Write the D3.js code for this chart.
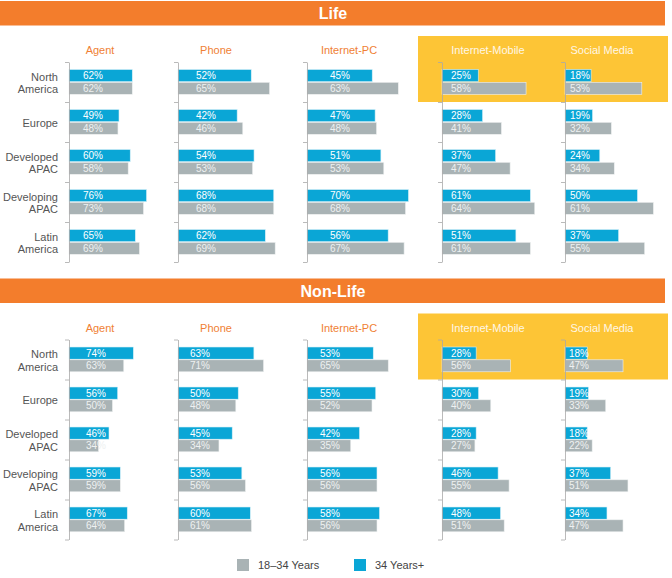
<!DOCTYPE html>
<html>
<head>
<meta charset="utf-8">
<script src="https://cdn.jsdelivr.net/npm/d3@7"></script>
<style>
  body { margin: 0; background: #fff; }
  svg { font-family: "Liberation Sans", Arial, Helvetica, sans-serif; }
</style>
</head>
<body>
<div id="chart"></div>
<script>
// DATA
const channels = ["Agent", "Phone", "Internet-PC", "Internet-Mobile", "Social Media"];
const regions = ["North America", "Europe", "Developed APAC", "Developing APAC", "Latin America"];
const panels = ["Life", "Non-Life"];
const legendLabels = ["18–34 Years", "34 Years+"];

// life, 34 years+ (blue) per channel, rows = regions
const life34plus = [
  [62, 49, 60, 76, 65],
  [52, 42, 54, 68, 62],
  [45, 47, 51, 70, 56],
  [25, 28, 37, 61, 51],
  [18, 19, 24, 50, 37]
];
// life, 18-34 (grey)
const life1834 = [
  [62, 48, 58, 73, 69],
  [65, 46, 53, 68, 69],
  [63, 48, 53, 68, 67],
  [58, 41, 47, 64, 61],
  [53, 32, 34, 61, 55]
];
const nonLife34plus = [
  [74, 56, 46, 59, 67],
  [63, 50, 45, 53, 60],
  [53, 55, 42, 56, 58],
  [28, 30, 28, 46, 48],
  [18, 19, 18, 37, 34]
];
const nonLife1834 = [
  [63, 50, 34, 59, 64],
  [71, 48, 34, 56, 61],
  [65, 52, 35, 56, 56],
  [56, 40, 27, 55, 51],
  [47, 33, 22, 51, 47]
];
// each small chart in the original has its own scale (value at 100px)
const lifeScaleMax = [98, 71, 69, 69, 69];
const nonLifeScaleMax = [115, 83, 80, 82, 81];

// LAYOUT
const W = 672, H = 578;
const blue = "#0aa6d6", grey = "#a9b3b5", orange = "#f37d2c", yellow = "#fdc536";
const colX = [69, 178, 307, 442, 565];
const headX = [100, 216, 349, 488, 602];
const labelPad = [[14, 18, 23, 9, 5], [17, 12, 13, 9, 4]];
const panelTop = [0, 277.5];
const highlightCols = [3, 4];

const svg = d3.select("#chart").append("svg")
  .attr("width", W)
  .attr("height", H);

const panelData = [
  { name: panels[0], blue: life34plus, grey: life1834, max: lifeScaleMax },
  { name: panels[1], blue: nonLife34plus, grey: nonLife1834, max: nonLifeScaleMax }
];

panelData.forEach((p, pi) => {
  const g = svg.append("g").attr("transform", `translate(0, ${panelTop[pi]})`);

  // ORANGE BANNER
  g.append("rect")
    .attr("x", 0).attr("y", 1)
    .attr("width", 665).attr("height", 24.5)
    .attr("fill", orange);
  g.append("text")
    .attr("x", 333).attr("y", 19)
    .attr("text-anchor", "middle")
    .attr("font-size", 16).attr("font-weight", "bold")
    .attr("fill", "#fff")
    .text(p.name);

  // YELLOW BOX BEHIND MOBILE + SOCIAL
  g.append("rect")
    .attr("x", 418).attr("y", 36)
    .attr("width", 250).attr("height", 66)
    .attr("fill", yellow);

  const yBand = d3.scaleBand().domain(regions).range([62, 262]);
  const yLin = d3.scaleLinear().domain([0, regions.length]).range([62, 262]);

  // REGION LABELS
  const lab = g.append("g").selectAll("text")
    .data(regions)
    .enter()
    .append("text")
    .attr("x", 58)
    .attr("y", d => yBand(d) + yBand.bandwidth() / 2 + 1)
    .attr("text-anchor", "end")
    .attr("font-size", 11)
    .attr("fill", "#555");
  lab.each(function(d) {
    const words = d.split(" ");
    const t = d3.select(this);
    if (words.length === 1) {
      t.append("tspan").attr("dy", "0.35em").text(d);
    } else {
      t.append("tspan").attr("x", 58).attr("dy", "-0.22em").text(words[0]);
      t.append("tspan").attr("x", 58).attr("dy", "1.15em").text(words.slice(1).join(" "));
    }
  });

  channels.forEach((c, ci) => {
    const hl = highlightCols.includes(ci);
    const x = d3.scaleLinear().domain([0, p.max[ci]]).range([0, 100]);
    const cg = g.append("g").attr("transform", `translate(${colX[ci]}, 0)`);

    // HEADER
    g.append("text")
      .attr("x", headX[ci]).attr("y", 54)
      .attr("text-anchor", "middle")
      .attr("font-size", 11)
      .attr("fill", hl ? "#fff7e6" : "#f07f35")
      .text(c);

    // BARS
    const rows = regions.map((r, i) => ({ r: r, b: p.blue[ci][i], g: p.grey[ci][i] }));
    cg.selectAll(".bb").data(rows).enter().append("rect")
      .attr("class", "bb")
      .attr("x", 0)
      .attr("y", d => yBand(d.r) + 7.5)
      .attr("width", d => x(d.b))
      .attr("height", 12.2)
      .attr("fill", blue)
      .attr("stroke", "#d8f1f8").attr("stroke-width", 0.6);
    cg.selectAll(".gb").data(rows).enter().append("rect")
      .attr("class", "gb")
      .attr("x", 0)
      .attr("y", d => yBand(d.r) + 20.3)
      .attr("width", d => x(d.g))
      .attr("height", 12)
      .attr("fill", grey)
      .attr("stroke", "#eef1f1").attr("stroke-width", 0.6);

    // VALUE LABELS
    cg.selectAll(".bt").data(rows).enter().append("text")
      .attr("x", labelPad[pi][ci])
      .attr("y", d => yBand(d.r) + 17)
      .attr("font-size", 10)
      .attr("fill", "#ffffff")
      .text(d => d.b + "%");
    cg.selectAll(".gt").data(rows).enter().append("text")
      .attr("x", labelPad[pi][ci])
      .attr("y", d => yBand(d.r) + 29.8)
      .attr("font-size", 10)
      .attr("fill", "#eef1f1")
      .text(d => d.g + "%");

    // AXIS WITH TICKS BETWEEN ROWS
    const ax = cg.append("g")
      .call(d3.axisLeft(yLin).tickValues(d3.range(regions.length + 1)).tickFormat("").tickSize(4).tickSizeOuter(0));
    ax.selectAll("path, line").attr("stroke", "#a8a8a8").attr("stroke-width", 0.8);
  });
});

// LEGEND
const leg = svg.append("g");
const legX = [237, 354];
[grey, blue].forEach((col, i) => {
  leg.append("rect")
    .attr("x", legX[i]).attr("y", 559)
    .attr("width", 12).attr("height", 12)
    .attr("fill", col);
  leg.append("text")
    .attr("x", legX[i] + 21).attr("y", 569)
    .attr("font-size", 11)
    .attr("fill", "#444")
    .text(legendLabels[i]);
});
</script>
</body>
</html>
